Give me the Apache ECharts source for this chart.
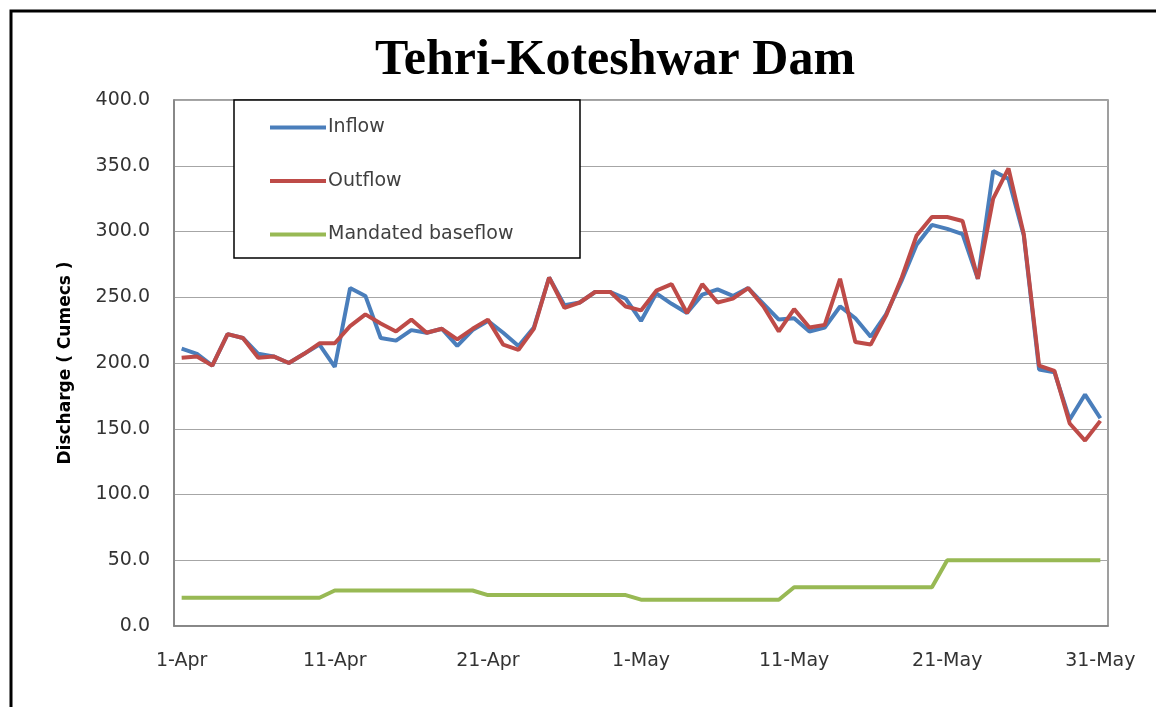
<!DOCTYPE html>
<html>
<head>
<meta charset="utf-8">
<script src="https://cdn.jsdelivr.net/npm/echarts@6/dist/echarts.min.js"></script>
<style>
html,body{margin:0;padding:0;background:#fff;}
#chart{width:1156px;height:707px;}
</style>
</head>
<body>
<div id="chart"></div>
<script>
const categories = [
  '1-Apr','2-Apr','3-Apr','4-Apr','5-Apr','6-Apr','7-Apr','8-Apr','9-Apr','10-Apr',
  '11-Apr','12-Apr','13-Apr','14-Apr','15-Apr','16-Apr','17-Apr','18-Apr','19-Apr','20-Apr',
  '21-Apr','22-Apr','23-Apr','24-Apr','25-Apr','26-Apr','27-Apr','28-Apr','29-Apr','30-Apr',
  '1-May','2-May','3-May','4-May','5-May','6-May','7-May','8-May','9-May','10-May',
  '11-May','12-May','13-May','14-May','15-May','16-May','17-May','18-May','19-May','20-May',
  '21-May','22-May','23-May','24-May','25-May','26-May','27-May','28-May','29-May','30-May',
  '31-May'
];
const inflow = [
  211,207,198,222,219,207,205,200,207,214,
  197,257,251,219,217,225,223,226,213,225,
  232,223,213,227,265,244,246,254,254,249,
  232,253,245,238,252,256,251,257,245,233,
  234,224,227,243,234,220,237,262,290,305,
  302,298,264,346,340,297,195,193,157,176,
  158
];
const outflow = [
  204,205,198,222,219,204,205,200,207,215,
  215,228,237,230,224,233,223,226,218,226,
  233,214,210,226,265,242,246,254,254,243,
  240,255,260,238,260,246,249,257,243,224,
  241,227,229,264,216,214,236,264,297,311,
  311,308,264,325,348,298,198,194,154,141,
  156
];
const baseflow = [
  21.5,21.5,21.5,21.5,21.5,21.5,21.5,21.5,21.5,21.5,
  27,27,27,27,27,27,27,27,27,27,
  23.5,23.5,23.5,23.5,23.5,23.5,23.5,23.5,23.5,23.5,
  20,20,20,20,20,20,20,20,20,20,
  29.5,29.5,29.5,29.5,29.5,29.5,29.5,29.5,29.5,29.5,
  50,50,50,50,50,50,50,50,50,50,
  50
];
const seriesNames = ['Inflow','Outflow','Mandated baseflow'];
const titleText = 'Tehri-Koteshwar Dam';
const yAxisName = 'Discharge ( Cumecs )';

const chart = echarts.init(document.getElementById('chart'));
const lineW = 4;
chart.setOption({
  animation: false,
  backgroundColor: '#fff',
  title: {
    text: titleText,
    left: 375,
    top: 36,
    padding: 0,
    textStyle: {fontFamily: 'Liberation Serif', fontWeight: 'bold', fontSize: 50, color: '#000'}
  },
  graphic: [
    {type: 'rect', shape: {x: 11, y: 11, width: 1160, height: 720}, style: {fill: 'none', stroke: '#000', lineWidth: 3}, z: 0},
    {type: 'rect', shape: {x: 234, y: 100, width: 346, height: 158}, style: {fill: '#fff', stroke: '#000', lineWidth: 1.5}, z: 5}
  ],
  legend: {
    orient: 'vertical',
    left: 270,
    top: 118,
    padding: 0,
    itemGap: 34.5,
    itemWidth: 56,
    itemHeight: 4,
    icon: 'rect',
    z: 10,
    textStyle: {fontFamily: 'DejaVu Sans', fontSize: 19, color: '#404040', lineHeight: 18, padding: [0,0,0,-3]},
    data: seriesNames
  },
  grid: {left: 174, right: 48, top: 100, bottom: 81, show: true, borderColor: '#808080', borderWidth: 1.5},
  xAxis: {
    type: 'category',
    data: categories,
    boundaryGap: true,
    axisLine: {lineStyle: {color: '#808080', width: 1.5}},
    axisTick: {show: false},
    axisLabel: {interval: 9, margin: 26, fontFamily: 'DejaVu Sans', fontSize: 19, color: '#333'}
  },
  yAxis: {
    type: 'value',
    min: 0, max: 400, interval: 50,
    name: yAxisName,
    nameLocation: 'middle',
    nameGap: 100,
    nameTextStyle: {fontFamily: 'DejaVu Sans', fontWeight: 'bold', fontSize: 17, color: '#000'},
    axisLine: {show: true, lineStyle: {color: '#808080', width: 1.5}},
    axisTick: {show: false},
    axisLabel: {margin: 24, fontFamily: 'DejaVu Sans', fontSize: 19, color: '#333', formatter: v => v.toFixed(1)},
    splitLine: {lineStyle: {color: '#a6a6a6', width: 1.2}}
  },
  series: [
    {name: seriesNames[0], type: 'line', data: inflow, symbol: 'none', lineStyle: {color: '#4A7EBB', width: lineW}, itemStyle: {color: '#4A7EBB'}, z: 2},
    {name: seriesNames[1], type: 'line', data: outflow, symbol: 'none', lineStyle: {color: '#BE4B48', width: lineW}, itemStyle: {color: '#BE4B48'}, z: 3},
    {name: seriesNames[2], type: 'line', data: baseflow, symbol: 'none', lineStyle: {color: '#98B954', width: lineW}, itemStyle: {color: '#98B954'}, z: 4}
  ]
});
</script>
</body>
</html>
